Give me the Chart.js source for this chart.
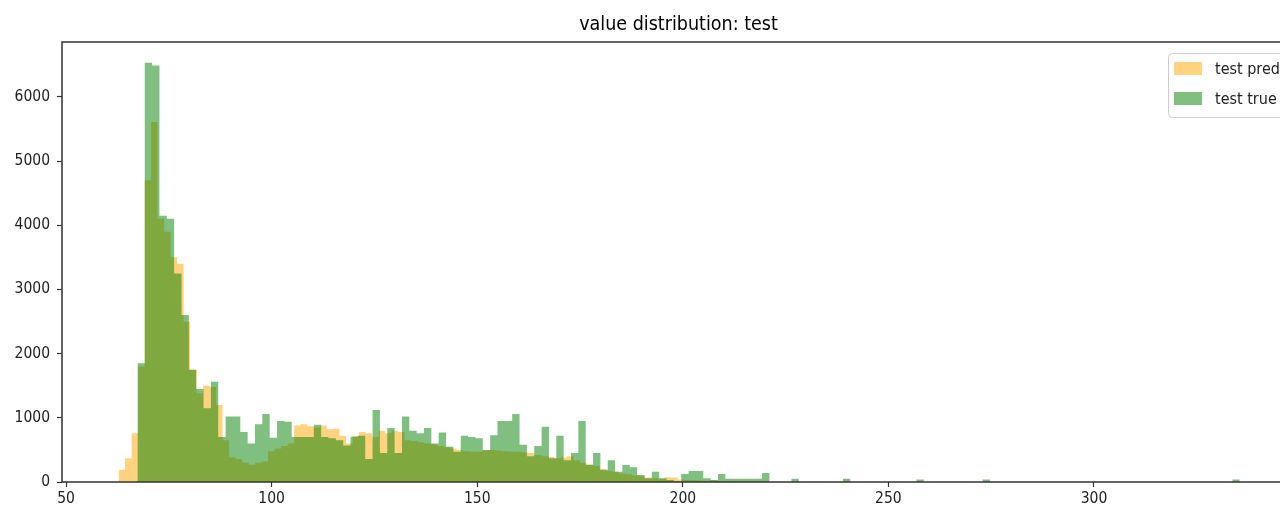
<!DOCTYPE html>
<html>
<head>
<meta charset="utf-8">
<script src="https://cdn.jsdelivr.net/npm/chart.js@4.4.0/dist/chart.umd.min.js"></script>
<style>
html, body { margin: 0; padding: 0; background: #fff; overflow: hidden; }
#wrap { width: 1330px; height: 517px; }
</style>
</head>
<body>
<div id="wrap"><canvas id="histChart"></canvas></div>
<script>
// histogram bins: left edge of the first bin and the bin width, then counts per bin
var predStart = 62.77;
var predWidth = 1.581;
var predCounts = [190, 370, 760, 1800, 4700, 5610, 4100, 3900, 3500, 3400, 2500, 1750, 1380, 1500, 1480, 1200,
  650, 380, 360, 300, 270, 300, 320, 480, 520, 560, 600, 880, 900, 870, 850, 880, 820, 830, 720, 600,
  720, 780, 760, 700, 800, 760, 800, 780, 650, 640, 620, 600, 590, 560, 540, 520, 500, 480, 470, 470,
  490, 500, 490, 480, 470, 470, 460, 450, 420, 400, 390, 370, 380, 400, 340, 300, 270, 250, 200, 170,
  160, 130, 120, 100, 90, 70, 60, 50, 75, 70, 40, 30, 30, 25, 20, 30, 15, 10, 10, 5];

var trueStart = 67.34;
var trueWidth = 1.7875;
var trueCounts = [1850, 6530, 6490, 4150, 4100, 3250, 2600, 1750, 1450, 1150, 1560, 700, 1020, 1020, 780, 600,
  900, 1060, 690, 950, 940, 700, 700, 700, 890, 700, 680, 650, 570, 705, 720, 360, 1120, 450, 840, 450,
  1020, 800, 760, 840, 600, 770, 550, 470, 720, 700, 680, 500, 730, 950, 950, 1060, 580, 400, 560, 860,
  370, 720, 340, 450, 950, 270, 450, 190, 340, 160, 265, 230, 110, 60, 160, 60, 30, 10, 125, 170, 170,
  60, 30, 125, 50, 50, 50, 50, 50, 140, 0, 0, 0, 50, 0, 0, 0, 0, 0, 0, 50, 0, 0, 0, 0, 0, 0, 0, 0, 0,
  40, 0, 0, 0, 0, 0, 0, 0, 0, 40, 0, 0, 0, 0, 0, 0, 0, 0, 0, 0, 0, 0, 0, 0, 0, 0, 0, 0, 0, 0, 0, 0, 0,
  0, 0, 0, 0, 0, 0, 0, 0, 0, 0, 40];

var xTicks = [50, 100, 150, 200, 250, 300];
var yTicks = [0, 1000, 2000, 3000, 4000, 5000, 6000];
var seriesLabels = ['test pred', 'test true'];

var FONT = "'DejaVu Sans Condensed', 'DejaVu Sans', sans-serif";
Chart.defaults.font.family = FONT;
Chart.defaults.color = '#222';

// turn bins into step points: one point per left edge, plus the closing right edge
function toSteps(start, width, counts) {
  var pts = counts.map(function (c, i) { return { x: start + i * width, y: c }; });
  pts.push({ x: start + counts.length * width, y: 0 });
  return pts;
}

var framePlugin = {
  id: 'frame',
  afterDatasetsDraw: function (chart) {
    var a = chart.chartArea, ctx = chart.ctx;
    ctx.save();
    ctx.strokeStyle = '#333';
    ctx.lineWidth = 1.5;
    ctx.strokeRect(a.left, a.top, a.right - a.left, a.bottom - a.top);
    ctx.restore();
  }
};

// matplotlib-style legend box in the upper right corner
var legendPlugin = {
  id: 'boxLegend',
  afterDraw: function (chart) {
    var ctx = chart.ctx, a = chart.chartArea;
    var w = 120, h = 64;
    var x0 = a.right - 7 - w, y0 = a.top + 11;
    ctx.save();
    ctx.beginPath();
    ctx.roundRect(x0 + 0.5, y0 + 0.5, w, h, 4);
    ctx.fillStyle = 'rgba(255,255,255,0.8)';
    ctx.fill();
    ctx.strokeStyle = '#cccccc';
    ctx.lineWidth = 1;
    ctx.stroke();
    chart.data.datasets.forEach(function (ds, i) {
      var cy = y0 + 15.5 + i * 30;
      ctx.fillStyle = ds.backgroundColor;
      ctx.fillRect(x0 + 6, cy - 6.5, 28, 13);
      ctx.fillStyle = '#222';
      ctx.font = '16px ' + FONT;
      ctx.textBaseline = 'middle';
      ctx.textAlign = 'left';
      ctx.fillText(ds.label, x0 + 47, cy + 1);
    });
    ctx.restore();
  }
};

var ctx = document.getElementById('histChart').getContext('2d');
var histChart = new Chart(ctx, {
  type: 'line',
  data: {
    datasets: [{
      label: seriesLabels[0],
      data: toSteps(predStart, predWidth, predCounts),
      stepped: 'before',
      fill: 'origin',
      backgroundColor: 'rgba(255,165,0,0.5)',
      borderColor: 'rgba(0,0,0,0)',
      borderWidth: 0,
      pointRadius: 0,
      order: 2
    }, {
      label: seriesLabels[1],
      data: toSteps(trueStart, trueWidth, trueCounts),
      stepped: 'before',
      fill: 'origin',
      backgroundColor: 'rgba(0,128,0,0.5)',
      borderColor: 'rgba(0,0,0,0)',
      borderWidth: 0,
      pointRadius: 0,
      order: 1
    }]
  },
  options: {
    responsive: true,
    maintainAspectRatio: false,
    animation: false,
    layout: { padding: { left: 0, right: 35, top: 0, bottom: 0 } },
    plugins: {
      legend: { display: false },
      tooltip: { enabled: false },
      title: {
        display: true,
        text: 'value distribution: test',
        fullSize: false,
        color: '#000',
        font: { size: 19.5, weight: 'normal' },
        padding: { top: 13, bottom: 5.6 }
      }
    },
    scales: {
      x: {
        type: 'linear',
        min: 49.0,
        max: 348.9,
        afterFit: function (scale) { scale.height = 35; },
        afterBuildTicks: function (scale) {
          scale.ticks = xTicks.map(function (v) { return { value: v }; });
        },
        ticks: {
          font: { size: 15.5 },
          padding: 3,
          maxRotation: 0,
          callback: function (v) { return String(v); }
        },
        grid: { drawOnChartArea: false, drawTicks: true, tickLength: 5, tickColor: '#333', tickWidth: 1.2 },
        border: { display: false }
      },
      y: {
        min: 0,
        max: 6855,
        afterFit: function (scale) { scale.width = 62; },
        afterBuildTicks: function (scale) {
          scale.ticks = yTicks.map(function (v) { return { value: v }; });
        },
        ticks: {
          font: { size: 15.5 },
          padding: 7,
          callback: function (v) { return String(v); }
        },
        grid: { drawOnChartArea: false, drawTicks: true, tickLength: 5, tickColor: '#333', tickWidth: 1.2 },
        border: { display: false }
      }
    }
  },
  plugins: [framePlugin, legendPlugin]
});
</script>
</body>
</html>
